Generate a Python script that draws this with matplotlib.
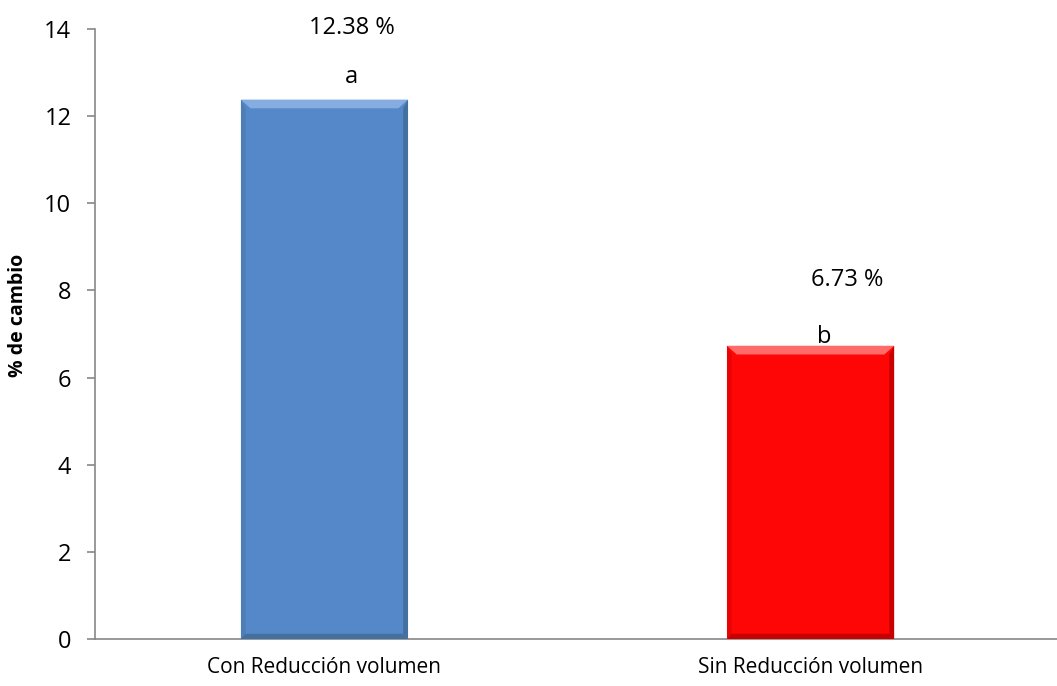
import numpy as np
import matplotlib.pyplot as plt
from matplotlib.patches import Polygon

categorias = ['Con Reducción volumen', 'Sin Reducción volumen']
cambio = [12.38, 6.73]
letras = ['a', 'b']
colores = ['#5588c8', '#ff0606']
claros = ['#86ade0', '#ff6a6a']
oscuros = ['#44709f', '#c80000']

plt.rcParams['font.family'] = ['Open Sans', 'DejaVu Sans']

fig = plt.figure(figsize=(10.57, 6.86), dpi=100)
ax = fig.add_axes([95 / 1057, 47 / 686, 962 / 1057, 610 / 686])

x = np.arange(len(categorias))
ancho = 0.344
ax.bar(x, cambio, width=ancho, color=colores, zorder=2)

# bisel de las barras
bv = 0.02
for xi, v, cl, os in zip(x, cambio, claros, oscuros):
    l, r = xi - ancho / 2, xi + ancho / 2
    dy = 0.2
    ax.add_patch(Polygon([[l, v], [r, v], [r - bv, v - dy], [l + bv, v - dy]],
                         closed=True, color=cl, lw=0, zorder=3))
    ax.add_patch(Polygon([[r, v], [r, 0], [r - bv * 0.5, 0.12], [r - bv * 0.5, v - dy]],
                         closed=True, color=os, lw=0, zorder=3))
    ax.add_patch(Polygon([[l, v], [l, 0], [l + bv * 0.5, 0.12], [l + bv * 0.5, v - dy]],
                         closed=True, color=os, lw=0, alpha=0.4, zorder=3))
    ax.add_patch(Polygon([[l, 0], [r, 0], [r - bv * 0.5, 0.12], [l + bv * 0.5, 0.12]],
                         closed=True, color=os, lw=0, zorder=3))

fs = 17
ax.text(0.057, 14.02, f'{cambio[0]:.2f} %', ha='center', va='center', fontsize=fs)
ax.text(0.056, 12.9, letras[0], ha='center', va='center', fontsize=fs)
ax.text(1.076, 8.24, f'{cambio[1]:.2f} %', ha='center', va='center', fontsize=fs)
ax.text(1.029, 6.93, letras[1], ha='center', va='center', fontsize=fs)

ax.set_xlim(-0.472, 1.507)
ax.set_ylim(0, 14)
ax.set_yticks(range(0, 15, 2))
ax.set_xticks(x)
ax.set_xticklabels(categorias, fontsize=15)
ax.tick_params(axis='y', labelsize=fs, length=6, color='#888888', width=1.2, pad=11)
ax.tick_params(axis='x', length=0, pad=13)
ax.set_ylabel('% de cambio', fontsize=14, fontweight='bold', va='center')
ax.yaxis.set_label_coords(-0.08, 0.53)

for s in ['top', 'right']:
    ax.spines[s].set_visible(False)
for s in ['left', 'bottom']:
    ax.spines[s].set_color('#888888')
    ax.spines[s].set_linewidth(1.2)

fig.savefig('out.png', dpi=100)
